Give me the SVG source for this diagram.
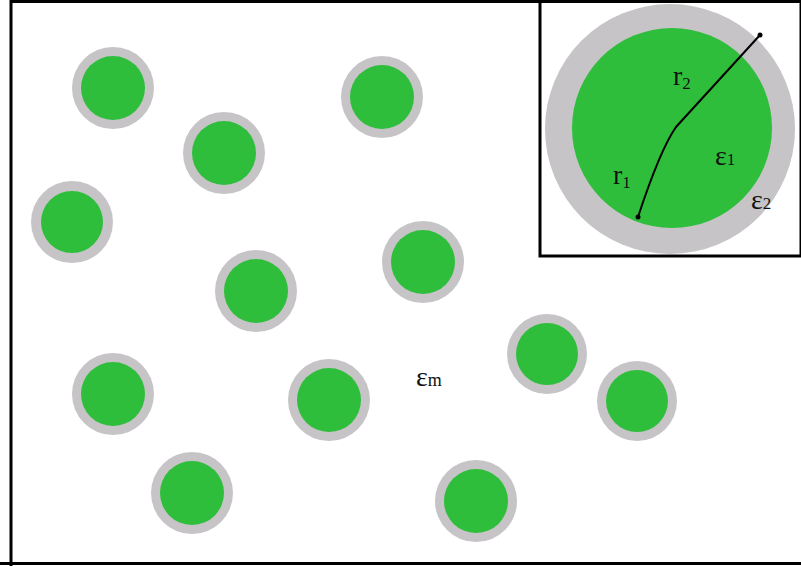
<svg xmlns="http://www.w3.org/2000/svg" width="801" height="566" viewBox="0 0 801 566">
<style>
.shell{fill:#c6c4c6}
.core{fill:#2fbe3c}
.lbl{font-family:"Liberation Serif",serif;fill:#111}
</style>
<rect width="801" height="566" fill="#ffffff"/>
<g id="frame" stroke="#000" stroke-width="3" fill="none">
<path d="M11,566 V1.5 H801"/>
<path d="M0,563.5 H801"/>
</g>
<g id="particles">
<g id="p1"><circle class="shell" cx="113" cy="88" r="41"/><circle class="core" cx="113" cy="88" r="32"/></g>
<g id="p2"><circle class="shell" cx="382" cy="97" r="41"/><circle class="core" cx="382" cy="97" r="32"/></g>
<g id="p3"><circle class="shell" cx="224" cy="153" r="41"/><circle class="core" cx="224" cy="153" r="32"/></g>
<g id="p4"><circle class="shell" cx="72" cy="222" r="41"/><circle class="core" cx="72" cy="222" r="31"/></g>
<g id="p5"><circle class="shell" cx="423" cy="262" r="41"/><circle class="core" cx="423" cy="262" r="32"/></g>
<g id="p6"><circle class="shell" cx="256" cy="291" r="41"/><circle class="core" cx="256" cy="291" r="32"/></g>
<g id="p7"><circle class="shell" cx="547" cy="354" r="40"/><circle class="core" cx="547" cy="354" r="31"/></g>
<g id="p8"><circle class="shell" cx="113" cy="394" r="41"/><circle class="core" cx="113" cy="394" r="32"/></g>
<g id="p9"><circle class="shell" cx="329" cy="400" r="41"/><circle class="core" cx="329" cy="400" r="32"/></g>
<g id="p10"><circle class="shell" cx="637" cy="401" r="40"/><circle class="core" cx="637" cy="401" r="31"/></g>
<g id="p11"><circle class="shell" cx="192" cy="493" r="41"/><circle class="core" cx="192" cy="493" r="32"/></g>
<g id="p12"><circle class="shell" cx="476" cy="501" r="41"/><circle class="core" cx="476" cy="501" r="32"/></g>
</g>
<text class="lbl" x="416" y="386" font-size="28">ε<tspan font-size="18">m</tspan></text>
<g id="inset">
<rect x="540" y="1.5" width="261" height="254.5" fill="#fff" stroke="#000" stroke-width="3"/>
<circle class="shell" cx="670" cy="129" r="125"/>
<circle class="core" cx="672" cy="128" r="100"/>
<g id="connectors" stroke="#000" stroke-width="2" fill="none">
<path d="M760,35 L676,127 Q660,150 638,217"/>
</g>
<circle cx="760" cy="35" r="2.5" fill="#000"/>
<circle cx="638" cy="217" r="2.5" fill="#000"/>
<text class="lbl" x="673" y="85" font-size="28">r<tspan font-size="17" dy="4">2</tspan></text>
<text class="lbl" x="613" y="184" font-size="28">r<tspan font-size="17" dy="4">1</tspan></text>
<text class="lbl" x="715" y="165" font-size="28">ε<tspan font-size="17">1</tspan></text>
<text class="lbl" x="751" y="209" font-size="28">ε<tspan font-size="17">2</tspan></text>
</g>
</svg>
